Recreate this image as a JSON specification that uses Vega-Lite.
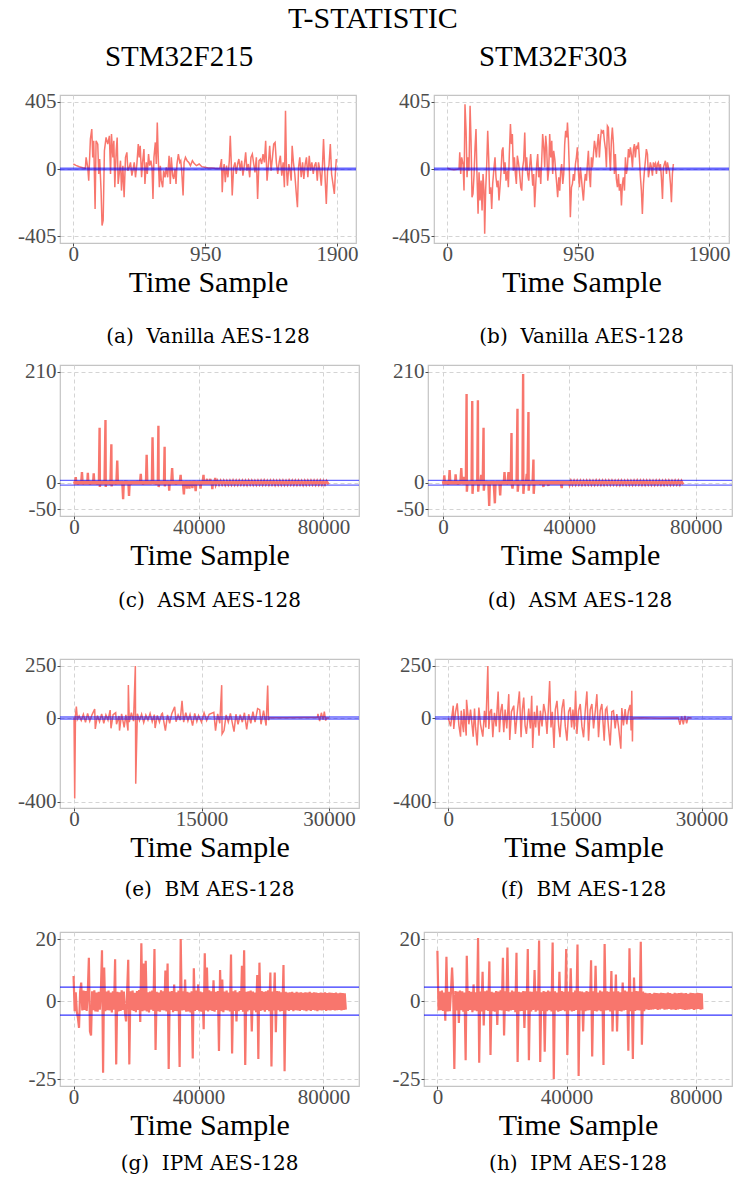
{
"$schema": "https://vega.github.io/schema/vega-lite/v6.json",
"padding": {"left": 0, "top": 4, "right": 0, "bottom": 0},
"title": {"text": "T-STATISTIC", "anchor": "middle", "frame": "bounds", "font": "Liberation Serif, Times New Roman, serif", "fontSize": 30, "fontWeight": "normal", "color": "#000000", "offset": 5, "dx": 6},
"spacing": 16,
"vconcat": [
{
 "bounds": "flush", "spacing": 105,
 "hconcat": [
  {"width": 238, "height": 35, "view": {"stroke": null}, "data": {"values": [{"label": "STM32F215"}]}, "mark": {"type": "text", "font": "Liberation Serif, Times New Roman, serif", "fontSize": 29, "color": "#000000"}, "encoding": {"text": {"field": "label"}}},
  {"width": 300, "height": 35, "view": {"stroke": null}, "data": {"values": [{"label": "STM32F303"}]}, "mark": {"type": "text", "font": "Liberation Serif, Times New Roman, serif", "fontSize": 29, "color": "#000000"}, "encoding": {"text": {"field": "label"}}}
 ]
},
{
"spacing": 12,
"vconcat": [
{
 "bounds": "flush", "spacing": 78,
 "hconcat": [
  {"width": 296, "height": 148,
   "title": {"text": "(a)\u00a0 Vanilla AES-128", "orient": "bottom", "offset": 30},
   "layer": [
    {"data": {"values": "x,y\n0,30\n19,22\n43,14\n68,8\n87,4\n92,70\n104,10\n111,-70\n123,180\n133,240\n140,70\n147,170\n157,-240\n164,170\n176,150\n183,-30\n190,60\n200,-130\n207,-340\n215,-310\n224,110\n236,190\n248,150\n260,200\n268,-30\n275,210\n285,70\n292,170\n299,-110\n309,110\n316,190\n323,-90\n333,-10\n340,50\n347,-130\n357,20\n366,-170\n376,70\n386,100\n393,-10\n403,10\n412,40\n422,-40\n429,-10\n439,40\n448,-50\n458,30\n468,150\n475,70\n482,140\n492,-50\n499,40\n509,120\n516,-90\n526,40\n533,-30\n542,90\n550,20\n559,50\n567,10\n574,-180\n581,70\n591,160\n598,30\n605,280\n612,70\n620,-110\n627,20\n634,-70\n644,-110\n651,-10\n661,-50\n670,10\n680,-50\n690,80\n699,-90\n706,70\n716,-40\n723,-60\n733,0\n740,-90\n747,30\n757,90\n767,40\n774,50\n781,-10\n791,-160\n798,40\n808,70\n820,50\n832,40\n844,20\n858,50\n870,34\n887,20\n907,30\n926,14\n948,10\n972,6\n996,6\n1020,4\n1056,2\n1068,60\n1073,-140\n1080,-10\n1087,30\n1095,-80\n1104,20\n1114,-50\n1124,50\n1131,200\n1138,40\n1145,-160\n1155,10\n1165,40\n1174,-30\n1184,30\n1193,60\n1203,-10\n1213,50\n1222,-40\n1232,20\n1242,100\n1251,-10\n1261,30\n1271,-50\n1280,70\n1290,90\n1300,30\n1309,-20\n1319,70\n1328,-180\n1338,50\n1348,60\n1357,30\n1367,90\n1377,40\n1386,170\n1396,-70\n1406,30\n1415,140\n1425,-10\n1435,70\n1444,150\n1454,160\n1463,40\n1473,-30\n1483,40\n1492,80\n1502,-40\n1512,40\n1521,-110\n1529,350\n1536,0\n1543,-100\n1553,30\n1562,-10\n1570,-70\n1577,140\n1586,40\n1596,-30\n1606,-140\n1615,-230\n1623,10\n1632,70\n1642,-50\n1652,40\n1661,-60\n1671,30\n1680,70\n1690,-50\n1700,80\n1709,-10\n1719,40\n1729,-30\n1738,20\n1748,40\n1758,-70\n1767,40\n1777,-10\n1787,-100\n1796,30\n1803,180\n1813,-30\n1823,-210\n1832,-10\n1842,20\n1852,150\n1861,-30\n1871,-90\n1881,-150\n1888,-30\n1895,60", "format": {"type": "csv", "parse": {"x": "number", "y": "number"}}},
     "mark": {"type": "line", "color": "#F8766D", "strokeWidth": 1.5},
     "encoding": {
      "x": {"field": "x", "type": "quantitative", "scale": {"domain": [-96, 2037], "nice": false, "zero": false}, "axis": {"values": [0, 950, 1900], "labelExpr": "'' + datum.value", "labelFont": "Liberation Serif, Times New Roman, serif", "title": "Time Sample", "titlePadding": 3}},
      "y": {"field": "y", "type": "quantitative", "scale": {"domain": [-445.5, 445.5], "nice": false, "zero": false}, "axis": {"values": [-405, 0, 405], "labelExpr": "'' + datum.value", "labelFont": "Liberation Serif, Times New Roman, serif", "title": null, "minExtent": 59}}
     }},
    {"data": {"values": [{"h": 4.5}, {"h": -4.5}]}, "mark": {"type": "rule", "color": "#0000FF", "strokeWidth": 1.4, "opacity": 0.6},
     "encoding": {"y": {"field": "h", "type": "quantitative", "title": null, "scale": {"domain": [-445.5, 445.5], "nice": false, "zero": false}}}}
   ]},
  {"width": 295, "height": 148,
   "title": {"text": "(b)\u00a0 Vanilla AES-128", "orient": "bottom", "offset": 30},
   "layer": [
    {"data": {"values": "x,y\n0,4\n24,-2\n48,-4\n73,-2\n85,0\n90,100\n97,-30\n104,70\n114,30\n121,-130\n128,390\n136,230\n143,-50\n150,70\n157,-10\n165,380\n172,170\n179,-170\n186,-150\n194,-30\n201,130\n208,240\n215,-30\n223,-270\n230,-20\n237,-190\n245,-70\n252,-250\n259,-30\n266,-130\n271,-390\n278,-130\n286,30\n293,230\n300,70\n307,-150\n315,-110\n322,-240\n329,-90\n339,10\n346,70\n353,-50\n361,-110\n368,-70\n375,-190\n383,-100\n390,-10\n397,110\n404,130\n412,-30\n419,40\n426,-70\n436,-10\n443,-110\n450,90\n458,270\n465,150\n472,210\n479,-10\n487,70\n494,-30\n501,-90\n508,80\n516,40\n523,-10\n533,-110\n540,-130\n547,10\n554,50\n562,220\n569,-10\n576,70\n583,-30\n591,-70\n598,20\n605,90\n613,-10\n620,-100\n627,-30\n634,-230\n642,-90\n649,30\n656,90\n663,-50\n671,10\n678,-90\n685,50\n692,210\n700,130\n707,10\n714,200\n721,130\n729,-70\n736,-10\n743,210\n751,70\n758,170\n765,-30\n772,110\n780,60\n787,-20\n794,-90\n801,-170\n809,-50\n816,-130\n823,-10\n830,30\n838,-90\n845,-30\n852,150\n859,230\n867,190\n872,280\n879,170\n886,-10\n893,-290\n901,-110\n908,-90\n915,-30\n922,-70\n930,30\n937,70\n944,130\n951,-10\n959,-110\n966,10\n973,-50\n981,-130\n988,-190\n995,-90\n1002,-30\n1010,-70\n1017,30\n1024,110\n1031,-30\n1039,-110\n1046,70\n1053,10\n1060,80\n1068,170\n1075,130\n1082,70\n1089,150\n1097,210\n1104,70\n1111,170\n1118,230\n1126,220\n1133,234\n1140,170\n1148,120\n1155,10\n1162,260\n1169,250\n1177,90\n1184,-10\n1191,170\n1198,250\n1206,150\n1213,-30\n1220,90\n1227,-60\n1235,-110\n1242,-30\n1249,-130\n1257,-90\n1264,-220\n1271,-90\n1278,-50\n1286,-130\n1293,70\n1300,-30\n1307,10\n1315,120\n1322,70\n1329,130\n1336,90\n1344,10\n1351,120\n1358,150\n1365,70\n1373,140\n1380,120\n1387,160\n1394,70\n1402,-50\n1409,-130\n1416,-270\n1424,-90\n1431,-10\n1438,50\n1445,120\n1453,90\n1460,-50\n1467,-10\n1474,40\n1482,10\n1489,-40\n1496,40\n1503,20\n1511,34\n1518,-30\n1525,30\n1532,40\n1540,-10\n1547,30\n1554,-50\n1562,-180\n1569,10\n1576,30\n1583,50\n1591,-30\n1598,40\n1605,10\n1612,-10\n1620,-90\n1627,-200\n1634,-30\n1641,30", "format": {"type": "csv", "parse": {"x": "number", "y": "number"}}},
     "mark": {"type": "line", "color": "#F8766D", "strokeWidth": 1.5},
     "encoding": {
      "x": {"field": "x", "type": "quantitative", "scale": {"domain": [-97, 2045], "nice": false, "zero": false}, "axis": {"values": [0, 950, 1900], "labelExpr": "'' + datum.value", "labelFont": "Liberation Serif, Times New Roman, serif", "title": "Time Sample", "titlePadding": 3}},
      "y": {"field": "y", "type": "quantitative", "scale": {"domain": [-445.5, 445.5], "nice": false, "zero": false}, "axis": {"values": [-405, 0, 405], "labelExpr": "'' + datum.value", "labelFont": "Liberation Serif, Times New Roman, serif", "title": null}}
     }},
    {"data": {"values": [{"h": 4.5}, {"h": -4.5}]}, "mark": {"type": "rule", "color": "#0000FF", "strokeWidth": 1.4, "opacity": 0.6},
     "encoding": {"y": {"field": "h", "type": "quantitative", "title": null, "scale": {"domain": [-445.5, 445.5], "nice": false, "zero": false}}}}
   ]}
 ]
},
{
 "spacing": 42,
 "vconcat": [
 {
  "bounds": "flush", "spacing": 69,
  "hconcat": [
   {"width": 299, "height": 151,
    "title": {"text": "(c)\u00a0 ASM AES-128", "orient": "bottom", "offset": 21},
    "layer": [
     {"data": {"values": "x,y\n0,3\n250,-3.5\n524,10.7\n750,-3.2\n1000,3.4\n1250,-3.6\n1500,3.1\n1750,-3.4\n2000,3.5\n2250,-3.2\n2516,20\n2750,-3.6\n3000,3.2\n3250,-3.4\n3500,3.6\n3750,-3.1\n4000,3.3\n4200,-3.5\n4404,19\n4600,-3.3\n4850,3.4\n5100,-3.6\n5350,3.2\n5600,-3.3\n5850,3.5\n6050,-3.4\n6291,18\n6500,-3.2\n6750,3.4\n7000,-3.5\n7250,3.1\n7500,-3.6\n7750,3.3\n7950,-3.2\n8178,104\n8260,-8\n8500,3.4\n8750,-3.3\n9000,3.5\n9250,-3.1\n9500,3.6\n9750,-3.4\n10066,119\n10150,-8\n10400,3.2\n10650,-3.5\n10900,3.3\n11150,-3.4\n11400,3.1\n11650,-3.6\n11953,73\n12030,-7\n12300,3.4\n12550,-3.2\n12800,3.5\n13050,-3.3\n13300,3.2\n13550,-3.6\n13840,42\n14050,-3.3\n14300,3.4\n14550,-3.1\n14800,3.5\n15050,-3.4\n15300,3.2\n15500,-3.5\n15728,-31\n15950,3.3\n16200,-3.2\n16450,3.6\n16700,-3.4\n16950,3.1\n17200,-3.3\n17400,3.4\n17615,-25\n17850,3.2\n18100,-3.6\n18350,3.3\n18600,-3.1\n18850,3.5\n19100,-3.4\n19350,3.2\n19600,-3.5\n19850,3.4\n20100,-3.2\n20350,3.6\n20600,-3.3\n20850,3.1\n21100,-3.5\n21389,17\n21600,-3.4\n21850,3.2\n22100,-3.6\n22350,3.4\n22600,-3.1\n22850,3.3\n23050,-3.5\n23277,53\n23500,-3.2\n23750,3.5\n24000,-3.4\n24250,3.2\n24500,-3.3\n24750,3.6\n24950,-3.1\n25164,86\n25400,-3.5\n25650,3.3\n25900,-3.2\n26150,3.4\n26400,-3.6\n26650,3.1\n26850,-3.4\n27051,108\n27130,-8\n27400,3.3\n27650,-3.5\n27900,3.2\n28150,-3.3\n28400,3.5\n28650,-3.4\n28850,3.1\n29043,68\n29120,-7\n29400,3.4\n29650,-3.2\n29900,3.6\n30150,-3.3\n30350,3.2\n30511,-15\n30700,3.4\n30950,-3.5\n31200,3.1\n31455,28\n31700,-3.3\n31950,3.5\n32200,-3.2\n32450,3.4\n32700,-3.6\n32950,3.2\n33200,-3.3\n33450,3.4\n33700,-3.1\n33950,3.5\n34181,15\n34400,-3.4\n34650,3.2\n34950,-3.3\n35230,-22\n35450,3.4\n35700,-3.2\n35950,3.5\n36173,-11\n36400,3.3\n36650,-3.4\n36800,3.2\n37012,-11\n37250,3.5\n37500,-3.3\n37700,3.1\n37956,-10\n38200,3.4\n38450,-3.2\n38700,3.6\n39004,-16\n39250,3.3\n39500,-3.4\n39750,3.2\n40000,-3.5\n40300,3.3\n40577,-11\n40800,3.4\n41050,-3.2\n41300,3.5\n41521,15\n41750,-3.3\n42000,3.2\n42250,-3.4\n42450,3.3\n42674,7.5\n42900,-3.5\n43150,3.2\n43400,-3.3\n43722,7.5\n43950,-3.4\n44150,3.1\n44352,-12\n44600,3.4\n44850,-3.2\n45100,3.3\n45295,9\n45500,-3.5\n46000,3.2\n46500,-3.4\n47000,3.5\n47500,-3.2\n48000,3.3\n48500,-3.6\n49000,3.1\n49500,-3.3\n50000,3.4\n50500,-3.2\n51000,3.6\n51500,-3.4\n52000,3.2\n52500,-3.5\n53000,3.3\n53500,-3.1\n54000,3.4\n54500,-3.3\n55000,3.2\n55500,-3.6\n56000,3.5\n56500,-3.2\n57000,3.3\n57500,-3.4\n58000,3.1\n58500,-3.5\n59000,3.4\n59500,-3.2\n60000,3.3\n60500,-3.3\n61000,3.6\n61500,-3.1\n62000,3.2\n62500,-3.4\n63000,3.5\n63500,-3.2\n64000,3.3\n64500,-3.6\n65000,3.1\n65500,-3.3\n66000,3.4\n66500,-3.2\n67000,3.5\n67500,-3.4\n68000,3.2\n68500,-3.3\n69000,3.6\n69500,-3.1\n70000,3.4\n70500,-3.5\n71000,3.2\n71500,-3.3\n72000,3.4\n72500,-3.2\n73000,3.1\n73500,-3.6\n74000,3.3\n74500,-3.4\n75000,3.5\n75500,-3.2\n76000,3.3\n76500,-3.1\n77000,3.4\n77500,-3.5\n78000,3.2\n78500,-3.3\n79000,3.6\n79500,-3.4\n80000,3.1\n80500,-3.2\n81000,3.3\n81678,-3.1", "format": {"type": "csv", "parse": {"x": "number", "y": "number"}}},
      "mark": {"type": "line", "color": "#F8766D", "strokeWidth": 2.4},
      "encoding": {
       "x": {"field": "x", "type": "quantitative", "scale": {"domain": [-4530, 91420], "nice": false, "zero": false}, "axis": {"values": [0, 40000, 80000], "labelExpr": "'' + datum.value", "labelFont": "Liberation Serif, Times New Roman, serif", "title": "Time Sample", "titlePadding": 3}},
       "y": {"field": "y", "type": "quantitative", "scale": {"domain": [-63, 223], "nice": false, "zero": false}, "axis": {"values": [-50, 0, 210], "labelExpr": "'' + datum.value", "labelFont": "Liberation Serif, Times New Roman, serif", "title": null, "minExtent": 59}}
      }},
     {"data": {"values": [{"h": 4.5}, {"h": -4.5}]}, "mark": {"type": "rule", "color": "#0000FF", "strokeWidth": 1.4, "opacity": 0.6},
      "encoding": {"y": {"field": "h", "type": "quantitative", "title": null, "scale": {"domain": [-63, 223], "nice": false, "zero": false}}}}
    ]},
   {"width": 304, "height": 151,
    "title": {"text": "(d)\u00a0 ASM AES-128", "orient": "bottom", "offset": 21},
    "layer": [
     {"data": {"values": "x,y\n0,3\n200,-3.4\n421,14\n650,-3.2\n900,3.5\n1150,-3.3\n1400,3.2\n1650,-3.6\n1900,3.4\n2106,24\n2350,-3.3\n2600,3.5\n2850,-3.1\n3100,3.3\n3350,-3.5\n3600,3.2\n3800,-3.4\n4001,16\n4250,-3.2\n4500,3.4\n4750,-3.6\n5000,3.1\n5250,-3.3\n5550,3.5\n5792,28\n6050,-3.2\n6300,3.3\n6529,11\n6800,-3.4\n7050,3.2\n7250,-3.5\n7476,168\n7560,-17\n7800,3.4\n8050,-3.2\n8300,3.5\n8550,-3.3\n8800,3.1\n9050,-3.4\n9266,155\n9350,-21\n9600,3.3\n9850,-3.5\n10100,3.2\n10350,-3.3\n10600,3.6\n10850,-3.2\n11057,156\n11140,-17\n11400,3.3\n11650,-3.4\n11900,3.2\n12110,15\n12350,-3.5\n12600,3.4\n12847,104\n12930,-15\n13200,3.3\n13450,-3.2\n13700,3.5\n13950,-3.4\n14200,3.1\n14400,-3.3\n14637,-44\n14850,3.4\n15100,-3.2\n15350,3.5\n15600,-3.3\n15850,3.2\n16100,-3.6\n16427,-39\n16650,3.3\n16900,-3.4\n17150,3.2\n17400,-3.5\n17650,3.4\n17900,-3.1\n18112,-24\n18350,3.3\n18600,-3.4\n18850,3.5\n19100,-3.2\n19300,3.3\n19481,20\n19700,-3.4\n19950,3.2\n20200,-3.5\n20500,3.3\n20744,20\n20950,-3.2\n21200,3.4\n21450,-3.3\n21692,94\n21800,-3.5\n22008,-11\n22250,3.2\n22500,-3.4\n22750,3.3\n23000,-3.2\n23300,3.5\n23587,140\n23670,-17\n23950,3.3\n24200,-3.4\n24450,3.2\n24700,-3.5\n24950,3.4\n25150,-3.2\n25377,206\n25460,-21\n25750,3.3\n26000,-3.4\n26300,3.2\n26536,17\n26750,-3.3\n27062,134\n27140,-15\n27400,3.4\n27650,-3.2\n27900,3.5\n28150,-3.3\n28400,3.2\n28642,44\n28720,-21\n29000,3.3\n29250,-3.4\n29500,3.2\n29750,-3.5\n30000,3.4\n30250,-3.2\n30500,3.3\n30750,-3.6\n31000,3.1\n31250,-3.4\n31500,3.3\n31801,-8\n32050,3.2\n32300,-3.5\n32550,3.4\n32800,-3.3\n33050,3.2\n33380,-6\n33650,3.5\n33900,-3.2\n34150,3.3\n34400,-3.4\n34650,3.1\n34900,-3.5\n35150,3.4\n35400,-3.2\n35650,3.3\n35900,-3.3\n36150,3.5\n36400,-3.1\n36650,3.2\n36900,-3.4\n37150,3.3\n37592,-10\n37850,3.4\n38100,-3.2\n38350,3.5\n38600,-3.3\n38850,3.2\n39100,-3.4\n39350,3.3\n39600,-3.5\n39850,3.4\n40100,-3.2\n40500,3.3\n41000,-3.4\n41500,3.2\n42000,-3.5\n42500,3.4\n43000,-3.2\n43500,3.3\n44000,-3.6\n44500,3.1\n45000,-3.3\n45500,3.4\n46000,-3.2\n46500,3.5\n47000,-3.4\n47500,3.2\n48000,-3.3\n48500,3.6\n49000,-3.1\n49500,3.3\n50000,-3.4\n50500,3.2\n51000,-3.5\n51500,3.4\n52000,-3.2\n52500,3.3\n53000,-3.3\n53500,3.5\n54000,-3.1\n54500,3.2\n55000,-3.4\n55500,3.3\n56000,-3.6\n56500,3.4\n57000,-3.2\n57500,3.1\n58000,-3.3\n58500,3.5\n59000,-3.4\n59500,3.2\n60000,-3.3\n60500,3.4\n61000,-3.2\n61500,3.6\n62000,-3.1\n62500,3.3\n63000,-3.5\n63500,3.2\n64000,-3.4\n64500,3.3\n65000,-3.2\n65500,3.5\n66000,-3.3\n66500,3.1\n67000,-3.4\n67500,3.4\n68000,-3.2\n68500,3.3\n69000,-3.5\n69500,3.2\n70000,-3.3\n70500,3.4\n71000,-3.1\n71500,3.5\n72000,-3.4\n72500,3.2\n73000,-3.3\n73500,3.3\n74000,-3.2\n74500,3.4\n75000,-3.5\n75500,3.2\n76027,-3.1", "format": {"type": "csv", "parse": {"x": "number", "y": "number"}}},
      "mark": {"type": "line", "color": "#F8766D", "strokeWidth": 2.4},
      "encoding": {
       "x": {"field": "x", "type": "quantitative", "scale": {"domain": [-4740, 91500], "nice": false, "zero": false}, "axis": {"values": [0, 40000, 80000], "labelExpr": "'' + datum.value", "labelFont": "Liberation Serif, Times New Roman, serif", "title": "Time Sample", "titlePadding": 3}},
       "y": {"field": "y", "type": "quantitative", "scale": {"domain": [-63, 223], "nice": false, "zero": false}, "axis": {"values": [-50, 0, 210], "labelExpr": "'' + datum.value", "labelFont": "Liberation Serif, Times New Roman, serif", "title": null}}
      }},
     {"data": {"values": [{"h": 4.5}, {"h": -4.5}]}, "mark": {"type": "rule", "color": "#0000FF", "strokeWidth": 1.4, "opacity": 0.6},
      "encoding": {"y": {"field": "h", "type": "quantitative", "title": null, "scale": {"domain": [-63, 223], "nice": false, "zero": false}}}}
    ]}
  ]
 },
 {
  "spacing": 26,
  "vconcat": [
  {
   "bounds": "flush", "spacing": 76,
   "hconcat": [
    {"width": 299, "height": 149,
     "title": {"text": "(e)\u00a0 BM AES-128", "orient": "bottom", "offset": 18},
     "layer": [
      {"data": {"values": "x,y\n0,2\n80,-385\n170,12\n274,55\n400,-6\n600,10\n850,-12\n1100,18\n1350,-20\n1600,22\n1850,-15\n2100,14\n2432,43\n2500,-52\n2750,12\n3000,-18\n3250,20\n3500,-25\n3750,15\n4000,-10\n4250,38\n4350,-49\n4600,16\n4900,25\n5000,-30\n5300,10\n5350,-60\n5600,20\n5900,-45\n6100,15\n6350,-60\n6393,158\n6500,-20\n6750,25\n7000,-15\n7216,249\n7260,-314\n7450,20\n7700,-12\n7950,18\n8200,-22\n8450,14\n8700,-10\n8950,22\n9200,-18\n9450,16\n9540,-48\n9800,12\n10050,-20\n10300,18\n10400,22\n10550,-14\n10750,-60\n11000,15\n11250,-25\n11500,20\n11844,54\n12000,-18\n12250,15\n12500,-10\n12707,82\n12900,-20\n13150,25\n13400,-14\n13650,18\n13950,-36\n14200,22\n14450,-16\n14650,12\n15000,-20\n15300,25\n15600,-12\n15900,18\n16450,27\n16650,-60\n16900,20\n17150,-25\n17374,157\n17420,-76\n17649,-60\n17900,15\n18150,-20\n18400,22\n18826,-65\n19050,18\n19300,-30\n19550,16\n19800,-20\n20050,25\n20316,-55\n20550,18\n20800,-25\n21050,30\n21300,-20\n21600,45\n21845,40\n22000,-30\n22300,35\n22600,-36\n22786,155\n22880,-10\n23000,2\n25000,1\n27000,2\n28631,2\n28700,20\n28900,-15\n29100,25\n29300,-8\n29450,30\n29611,-12\n29700,1\n30000,0", "format": {"type": "csv", "parse": {"x": "number", "y": "number"}}},
       "mark": {"type": "line", "color": "#F8766D", "strokeWidth": 1.5},
       "encoding": {
        "x": {"field": "x", "type": "quantitative", "scale": {"domain": [-1650, 33530], "nice": false, "zero": false}, "axis": {"values": [0, 15000, 30000], "labelExpr": "'' + datum.value", "labelFont": "Liberation Serif, Times New Roman, serif", "title": "Time Sample", "titlePadding": 3}},
        "y": {"field": "y", "type": "quantitative", "scale": {"domain": [-430, 282], "nice": false, "zero": false}, "axis": {"values": [-400, 0, 250], "labelExpr": "'' + datum.value", "labelFont": "Liberation Serif, Times New Roman, serif", "title": null, "minExtent": 59}}
       }},
      {"data": {"values": [{"h": 4.5}, {"h": -4.5}]}, "mark": {"type": "rule", "color": "#0000FF", "strokeWidth": 1.4, "opacity": 0.6},
       "encoding": {"y": {"field": "h", "type": "quantitative", "title": null, "scale": {"domain": [-430, 282], "nice": false, "zero": false}}}}
     ]},
    {"width": 297, "height": 149,
     "title": {"text": "(f)\u00a0 BM AES-128", "orient": "bottom", "offset": 18},
     "layer": [
      {"data": {"values": "x,y\n0,0\n276,-40\n591,59\n650,-52\n866,30\n1063,70\n1260,-35\n1457,-89\n1535,35\n1654,-20\n1811,-68\n1850,43\n2008,-25\n2126,-84\n2165,87\n2441,-30\n2638,40\n2953,-89\n3110,45\n3228,-40\n3425,-131\n3622,50\n3819,-30\n4094,-89\n4291,35\n4449,-45\n4685,249\n4803,-52\n4961,30\n5118,43\n5276,-92\n5472,25\n5669,-40\n5906,127\n6063,-68\n6220,35\n6378,67\n6575,-68\n6732,40\n6929,-50\n7165,114\n7283,-105\n7480,30\n7756,59\n7953,-76\n8189,35\n8425,127\n8622,-92\n8780,40\n8937,98\n9094,-35\n9252,-76\n9527,45\n9724,-50\n9882,106\n10000,-143\n10197,30\n10354,-45\n10512,59\n10748,-84\n10905,35\n11102,-40\n11299,67\n11496,25\n11693,-76\n11850,40\n12008,177\n12165,-45\n12323,30\n12520,-143\n12677,40\n12874,82\n13071,-35\n13228,-92\n13465,45\n13661,90\n13858,-40\n14055,-108\n14252,30\n14449,51\n14606,-45\n14764,40\n14921,-55\n15079,130\n15236,-76\n15433,35\n15630,67\n15827,-40\n16024,-92\n16220,35\n16417,127\n16614,-108\n16811,40\n17008,67\n17205,-50\n17402,30\n17598,114\n17795,-92\n17992,35\n18189,67\n18465,-108\n18622,40\n18780,51\n18976,-45\n19173,-131\n19370,30\n19567,35\n19764,-50\n19961,19\n20157,-40\n20433,-147\n20551,48\n20748,-35\n20945,43\n21142,-30\n21339,35\n21535,63\n21654,-60\n21732,130\n21811,-112\n21850,0\n23000,1\n25000,-1\n27244,0\n27441,-32\n27638,8\n27835,-30\n28032,10\n28228,-25\n28400,2\n28819,0", "format": {"type": "csv", "parse": {"x": "number", "y": "number"}}},
       "mark": {"type": "line", "color": "#F8766D", "strokeWidth": 1.5},
       "encoding": {
        "x": {"field": "x", "type": "quantitative", "scale": {"domain": [-1570, 33600], "nice": false, "zero": false}, "axis": {"values": [0, 15000, 30000], "labelExpr": "'' + datum.value", "labelFont": "Liberation Serif, Times New Roman, serif", "title": "Time Sample", "titlePadding": 3}},
        "y": {"field": "y", "type": "quantitative", "scale": {"domain": [-430, 282], "nice": false, "zero": false}, "axis": {"values": [-400, 0, 250], "labelExpr": "'' + datum.value", "labelFont": "Liberation Serif, Times New Roman, serif", "title": null}}
       }},
      {"data": {"values": [{"h": 4.5}, {"h": -4.5}]}, "mark": {"type": "rule", "color": "#0000FF", "strokeWidth": 1.4, "opacity": 0.6},
       "encoding": {"y": {"field": "h", "type": "quantitative", "title": null, "scale": {"domain": [-430, 282], "nice": false, "zero": false}}}}
     ]}
   ]
  },
  {
   "bounds": "flush", "spacing": 65,
   "hconcat": [
    {"width": 299, "height": 154,
     "title": {"text": "(g)\u00a0 IPM AES-128", "orient": "bottom", "offset": 14},
     "layer": [
      {"data": {"values": "x,y\n0,8.1\n350,-3.2\n700,2.9\n1050,-3.5\n1400,-5.4\n1750,-8.6\n2100,3.1\n2450,6\n2800,-3.0\n3150,3.4\n3500,-2.8\n3850,3.3\n4200,-3.1\n4550,2.7\n4900,14\n5250,-9.7\n5600,-11\n5950,3.2\n6300,-2.9\n6650,3.5\n7000,-3.3\n7350,2.8\n7700,-3.4\n8050,3.0\n8400,-2.7\n8750,3.6\n9100,16.4\n9450,-23\n9800,10.8\n10150,-3.2\n10500,3.1\n10850,-2.9\n11200,3.4\n11550,-3.0\n11900,2.8\n12250,-3.6\n12600,3.2\n12950,-2.7\n13300,13.5\n13650,-20.3\n14000,3.0\n14350,-3.3\n14700,2.9\n15050,-3.1\n15400,3.5\n15750,-2.8\n16100,3.1\n16450,-3.4\n16800,-6.5\n17150,3.0\n17500,13.3\n17850,-20.3\n18200,3.2\n18550,-2.9\n18900,3.4\n19250,-3.1\n19600,2.7\n19950,-3.5\n20300,3.3\n20650,-2.8\n21000,3.6\n21350,-6.7\n21700,18.6\n22050,-3.2\n22400,12.1\n22750,-3.0\n23100,13\n23450,-3.3\n23800,2.9\n24150,-3.6\n24500,3.1\n24850,-2.7\n25200,3.4\n25550,-3.1\n25900,16.8\n26250,-15.7\n26600,3.0\n26950,-3.2\n27300,2.8\n27650,-3.4\n28000,3.5\n28350,-2.9\n28700,3.2\n29050,-3.0\n29400,9.9\n29750,-3.3\n30100,12.1\n30450,-21.8\n30800,3.1\n31150,-2.8\n31500,3.3\n31850,-3.5\n32200,5.4\n32550,-3.1\n32900,2.9\n33250,-3.2\n33600,3.4\n33950,-21.1\n34300,20\n34650,-3.0\n35000,3.2\n35350,-2.9\n35700,7\n36050,-3.4\n36400,3.0\n36750,-3.3\n37100,2.8\n37450,-3.6\n37800,3.2\n38150,-18.4\n38500,10.6\n38850,-3.1\n39200,3.4\n39550,-2.8\n39900,5.4\n40250,-3.2\n40600,3.1\n40950,-3.4\n41300,2.9\n41650,-9\n42000,15.4\n42350,-3.0\n42700,10.8\n43050,-3.3\n43400,3.5\n43750,-2.9\n44100,3.2\n44450,-3.1\n44800,6.7\n45150,-3.4\n45500,3.0\n45850,-2.8\n46200,3.3\n46550,-16\n46900,10\n47250,-3.2\n47600,7\n47950,-3.5\n48300,3.1\n48650,-2.9\n49000,3.4\n49350,-3.0\n49700,2.8\n50050,-3.3\n50400,15\n50750,-16.8\n51100,3.2\n51450,-3.1\n51800,3.5\n52150,-6.5\n52500,2.9\n52850,-3.2\n53200,3.3\n53550,-2.8\n53900,11.4\n54250,-3.4\n54600,16.4\n54950,-20.5\n55300,3.0\n55650,-3.3\n56000,3.2\n56350,-2.9\n56700,3.4\n57050,-9.7\n57400,3.1\n57750,-3.0\n58100,2.8\n58450,-3.5\n58800,8.4\n59150,-18.6\n59500,12.4\n59850,-3.1\n60200,3.3\n60550,-2.9\n60900,3.0\n61250,-3.4\n61600,3.2\n61950,-2.8\n62300,3.5\n62650,-3.2\n63000,9.2\n63350,-21\n63700,3.1\n64050,-3.0\n64400,9.2\n64750,-10\n65100,3.3\n65450,-2.9\n65800,3.2\n66150,-3.3\n66500,2.9\n66850,-3.1\n67200,11.6\n67550,-22.5\n67900,3.0\n68250,-2.9\n68600,2.8\n68950,-3.1\n69300,2.9\n69650,-2.8\n70000,3.0\n70350,-3.2\n70700,2.7\n71050,-2.9\n71400,3.0\n71750,-3.0\n72100,2.8\n72450,-3.1\n72800,2.9\n73150,-2.8\n73500,2.7\n73850,-3.0\n74200,2.9\n74550,-3.2\n74900,2.8\n75250,-2.9\n75600,3.0\n75950,-3.1\n76300,2.7\n76650,-2.8\n77000,2.9\n77350,-3.0\n77700,2.8\n78050,-3.2\n78400,2.6\n78750,-2.9\n79100,2.8\n79450,-3.0\n79800,2.7\n80150,-2.8\n80500,2.9\n80850,-3.1\n81200,2.6\n81550,-2.9\n81900,2.8\n82250,-3.0\n82600,2.7\n82950,-2.8\n83300,2.6\n83650,-3.0\n84000,2.8\n84350,-2.9\n84700,2.5\n85050,-2.8\n85400,2.7\n85750,-3.0\n86100,2.6\n86450,-2.8\n86800,2.5\n87150,-2.7", "format": {"type": "csv", "parse": {"x": "number", "y": "number"}}},
       "mark": {"type": "line", "color": "#F8766D", "strokeWidth": 2.2},
       "encoding": {
        "x": {"field": "x", "type": "quantitative", "scale": {"domain": [-4340, 91370], "nice": false, "zero": false}, "axis": {"values": [0, 40000, 80000], "labelExpr": "'' + datum.value", "labelFont": "Liberation Serif, Times New Roman, serif", "title": "Time Sample", "titlePadding": 3}},
        "y": {"field": "y", "type": "quantitative", "scale": {"domain": [-27.25, 22.25], "nice": false, "zero": false}, "axis": {"values": [-25, 0, 20], "labelExpr": "'' + datum.value", "labelFont": "Liberation Serif, Times New Roman, serif", "title": null, "minExtent": 59}}
       }},
      {"data": {"values": [{"h": 4.5}, {"h": -4.5}]}, "mark": {"type": "rule", "color": "#0000FF", "strokeWidth": 1.3, "opacity": 0.8},
       "encoding": {"y": {"field": "h", "type": "quantitative", "title": null, "scale": {"domain": [-27.25, 22.25], "nice": false, "zero": false}}}}
     ]},
    {"width": 308, "height": 154,
     "title": {"text": "(h)\u00a0 IPM AES-128", "orient": "bottom", "offset": 14},
     "layer": [
      {"data": {"values": "x,y\n0,16.2\n350,-3.0\n700,3.2\n1050,-2.9\n1400,3.4\n1750,-3.1\n2100,2.8\n2450,-6.3\n2800,14.3\n3150,-3.3\n3500,3.0\n3850,-3.2\n4200,2.9\n4550,10.8\n4900,2.0\n5250,-21.8\n5600,3.3\n5950,-3.0\n6300,3.1\n6650,-7\n7000,3.4\n7350,-2.9\n7700,3.2\n8050,-3.4\n8400,2.8\n8750,-19\n9100,14.6\n9450,-3.1\n9800,3.3\n10150,-2.8\n10500,3.0\n10850,-3.5\n11200,5.4\n11550,-3.0\n11900,2.9\n12250,-3.2\n12600,20.3\n12950,-19.8\n13300,3.1\n13650,-3.3\n14000,9.5\n14350,-7.8\n14700,3.2\n15050,-2.9\n15400,3.4\n15750,-3.1\n16100,12.8\n16450,-17.3\n16800,3.0\n17150,-3.2\n17500,2.8\n17850,-3.4\n18200,3.3\n18550,-7.6\n18900,3.1\n19250,-2.9\n19600,3.5\n19950,-3.0\n20300,14\n20650,-11\n21000,3.2\n21350,-3.1\n21700,17.3\n22050,-3.3\n22400,2.9\n22750,-3.0\n23100,3.4\n23450,-2.8\n23800,3.1\n24150,-3.5\n24500,15.6\n24850,-19.5\n25200,3.0\n25550,-3.2\n25900,2.9\n26250,-3.1\n26600,3.3\n26950,-8.6\n27300,3.2\n27650,-2.9\n28000,16.8\n28350,-19\n28700,3.1\n29050,-3.3\n29400,3.0\n29750,-2.8\n30100,10\n30450,-3.4\n30800,3.2\n31150,-3.0\n31500,19.5\n31850,-19.5\n32200,2.9\n32550,-3.1\n32900,3.3\n33250,-16.2\n33600,3.0\n33950,-3.2\n34300,3.4\n34650,-2.9\n35000,3.1\n35350,-3.3\n35700,18.9\n36050,-25\n36400,3.2\n36750,-3.0\n37100,2.8\n37450,-3.4\n37800,9.5\n38150,-3.1\n38500,3.3\n38850,-2.9\n39200,3.0\n39550,-3.2\n39900,16.8\n40250,-17.3\n40600,3.1\n40950,-3.0\n41300,10.6\n41650,-3.3\n42000,2.9\n42350,-3.1\n42700,3.4\n43050,-2.8\n43400,18.2\n43750,-24\n44100,3.2\n44450,-3.0\n44800,3.1\n45150,-9.7\n45500,2.9\n45850,-3.2\n46200,3.3\n46550,-3.0\n46900,3.0\n47250,-2.9\n47600,13.2\n47950,-17.8\n48300,3.2\n48650,-3.1\n49000,11.4\n49350,-3.3\n49700,2.8\n50050,-3.0\n50400,3.4\n50750,-3.2\n51100,3.1\n51450,-20.5\n51800,18.4\n52150,-3.0\n52500,3.2\n52850,-2.9\n53200,3.0\n53550,-3.3\n53900,9.7\n54250,-9.7\n54600,3.1\n54950,-3.0\n55300,8.6\n55650,-9.7\n56000,3.2\n56350,-3.1\n56700,2.9\n57050,-3.3\n57400,6\n57750,-3.0\n58100,3.4\n58450,-2.8\n58800,3.1\n59150,-15.9\n59500,17\n59850,-3.2\n60200,3.0\n60550,-18.6\n60900,7.6\n61250,-3.1\n61600,3.3\n61950,-2.9\n62300,3.2\n62650,-3.0\n63000,19.1\n63350,-14\n63700,3.1\n64050,-3.2\n64400,2.7\n64750,-2.6\n65100,2.5\n65450,-2.8\n65800,2.6\n66150,-2.7\n66500,2.4\n66850,-2.6\n67200,2.7\n67550,-2.5\n67900,2.6\n68250,-2.8\n68600,2.5\n68950,-2.6\n69300,2.7\n69650,-2.4\n70000,2.6\n70350,-2.7\n70700,2.5\n71050,-2.6\n71400,2.8\n71750,-2.5\n72100,2.6\n72450,-2.7\n72800,2.4\n73150,-2.6\n73500,2.7\n73850,-2.8\n74200,2.5\n74550,-2.6\n74900,2.6\n75250,-2.5\n75600,2.7\n75950,-2.6\n76300,2.5\n76650,-2.8\n77000,2.6\n77350,-2.7\n77700,2.4\n78050,-2.6\n78400,2.7\n78750,-2.5\n79100,2.6\n79450,-2.8\n79800,2.5\n80150,-2.6\n80500,2.7\n80850,-2.5\n81200,2.6\n81550,-2.7\n81900,2.5\n82070,-2.6", "format": {"type": "csv", "parse": {"x": "number", "y": "number"}}},
       "mark": {"type": "line", "color": "#F8766D", "strokeWidth": 2.2},
       "encoding": {
        "x": {"field": "x", "type": "quantitative", "scale": {"domain": [-4150, 91260], "nice": false, "zero": false}, "axis": {"values": [0, 40000, 80000], "labelExpr": "'' + datum.value", "labelFont": "Liberation Serif, Times New Roman, serif", "title": "Time Sample", "titlePadding": 3}},
        "y": {"field": "y", "type": "quantitative", "scale": {"domain": [-27.25, 22.25], "nice": false, "zero": false}, "axis": {"values": [-25, 0, 20], "labelExpr": "'' + datum.value", "labelFont": "Liberation Serif, Times New Roman, serif", "title": null}}
       }},
      {"data": {"values": [{"h": 4.5}, {"h": -4.5}]}, "mark": {"type": "rule", "color": "#0000FF", "strokeWidth": 1.3, "opacity": 0.8},
       "encoding": {"y": {"field": "h", "type": "quantitative", "title": null, "scale": {"domain": [-27.25, 22.25], "nice": false, "zero": false}}}}
     ]}
   ]
  }
  ]
 }
 ]
}
]
}
],
"config": {
 "background": "#ffffff",
 "font": "Liberation Serif, Times New Roman, serif",
 "view": {"stroke": "#C4C4C4", "strokeWidth": 1.2},
 "axis": {"domain": false, "grid": true, "gridColor": "#D4D4D4", "gridDash": [4, 3], "gridWidth": 1, "tickColor": "#4D4D4D", "tickSize": 3, "tickWidth": 1, "labelFont": "Liberation Serif, Times New Roman, serif", "labelFontSize": 21, "labelColor": "#4D4D4D", "labelFlush": false, "labelOverlap": false, "titleFont": "Liberation Serif, Times New Roman, serif", "titleFontSize": 30, "titleFontWeight": "normal", "titleColor": "#000000"},
 "axisX": {"labelPadding": -3},
 "axisY": {"labelPadding": 1},
 "title": {"font": "DejaVu Serif, serif", "fontSize": 20, "fontWeight": "normal", "color": "#000000"}
}
}
